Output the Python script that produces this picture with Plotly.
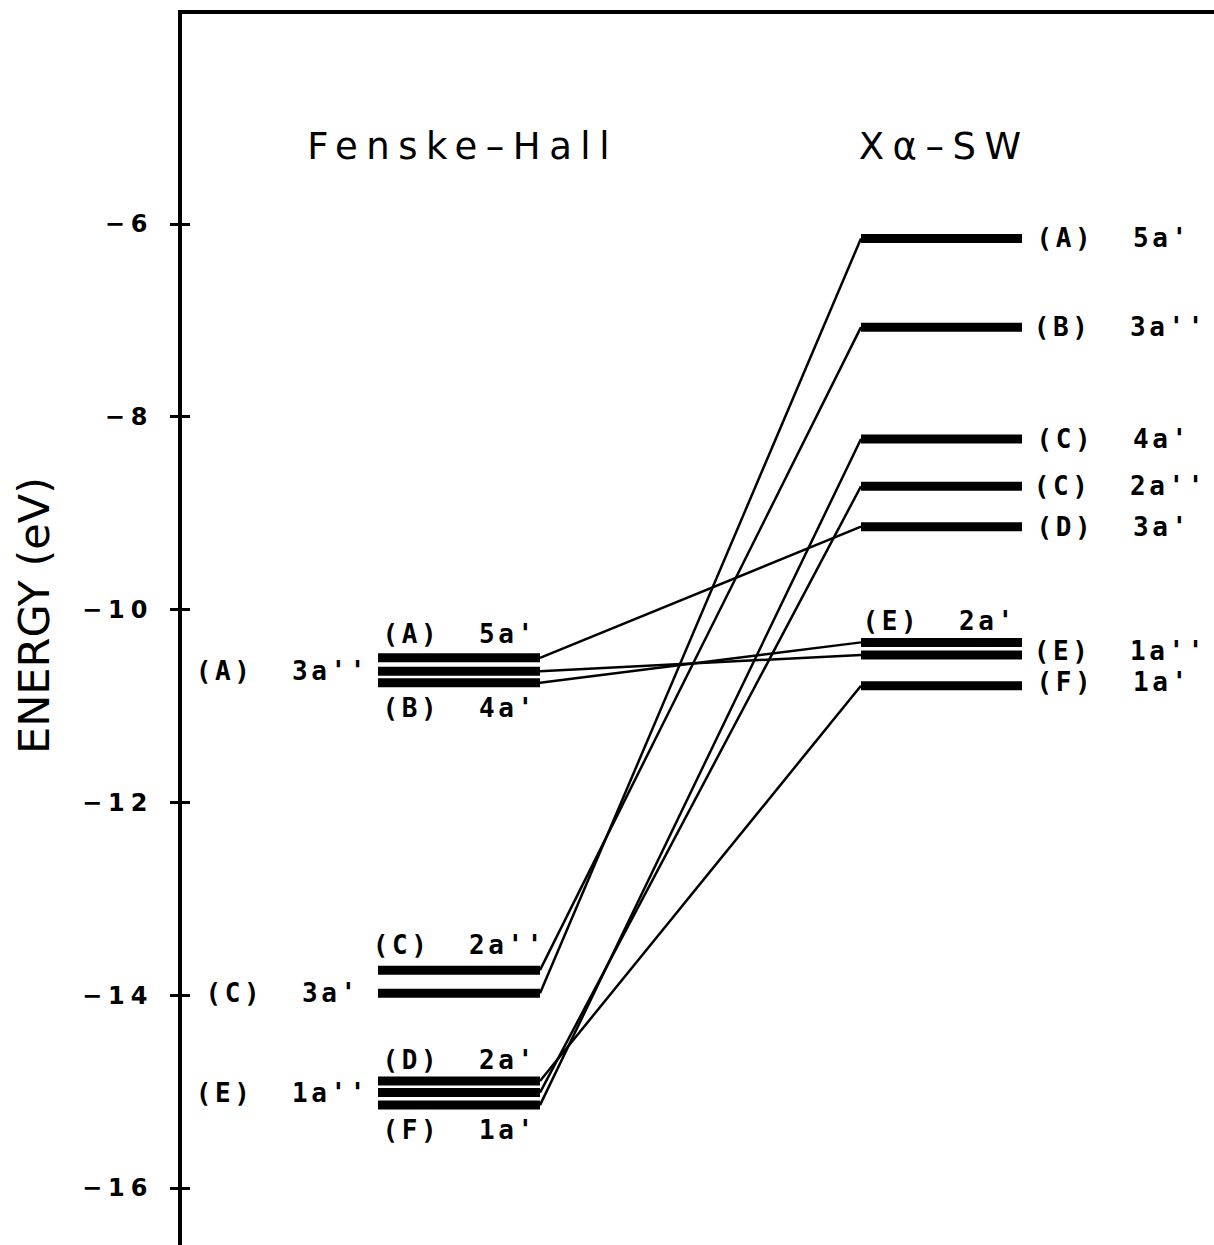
import json
import plotly.graph_objects as go

# ---------------- data ----------------
FH_LABELS = ["(A)  5a'", "(A)  3a''", "(B)  4a'", "(C)  2a''", "(C)  3a'",
             "(D)  2a'", "(E)  1a''", "(F)  1a'"]
FH_ENERGY = [-10.50, -10.64, -10.76, -13.74, -13.98, -14.89, -15.01, -15.14]

XA_LABELS = ["(A)  5a'", "(B)  3a''", "(C)  4a'", "(C)  2a''", "(D)  3a'",
             "(E)  2a'", "(E)  1a''", "(F)  1a'"]
XA_ENERGY = [-6.15, -7.07, -8.23, -8.72, -9.14, -10.34, -10.47, -10.79]

# index of the X-alpha-SW level each Fenske-Hall level is correlated with
CORRELATION = [4, 6, 5, 1, 0, 7, 3, 2]

TICK_VALUES = [-6, -8, -10, -12, -14, -16]
COLUMN_TITLES = ["Fenske–Hall", "Xα–SW"]
AXIS_TITLE = "ENERGY (eV)"

# ---------------- layout / style ----------------
W, H = 1214, 1245
ML, MT = 182, 14
PX_PER_EV = 96.4
Y_REF_PX = 224          # pixel row of the -6 tick
Y_TOP = -6 + (Y_REF_PX - MT) / PX_PER_EV
Y_BOT = -6 - (H - Y_REF_PX) / PX_PER_EV
X_MAX = (W - ML) / 100.0

X_FH = (1.96, 3.58)
X_XA = (6.79, 8.40)

FH_POS = ["above", "left", "below", "above", "left", "above", "left", "below"]
XA_POS = ["right", "right", "right", "right", "right", "above", "right", "right"]
FH_ABOVE_SHIFT = [24, 0, 0, 25, 0, 21, 0, 0]
XA_YSHIFT = [0, 0, 0, 0, 0, 21, 4, 4]

LABEL_FONT = dict(family="DejaVu Sans Mono", size=26, color="black", weight="bold")
TITLE_FONT = dict(family="DejaVu Sans", size=37, color="black")
TICK_FONT = dict(family="DejaVu Sans", size=24, color="black", weight="bold")
AXTITLE_FONT = dict(family="DejaVu Sans", size=43, color="black")

fig = go.Figure()

# correlation lines
cx, cy = [], []
for i, j in enumerate(CORRELATION):
    cx += [X_FH[1], X_XA[0], None]
    cy += [FH_ENERGY[i], XA_ENERGY[j], None]
fig.add_trace(go.Scatter(x=cx, y=cy, mode="lines",
                         line=dict(color="black", width=2.5),
                         hoverinfo="skip", showlegend=False))

# energy levels
for energies, (x0, x1) in ((FH_ENERGY, X_FH), (XA_ENERGY, X_XA)):
    lx, ly = [], []
    for e in energies:
        lx += [x0, x1, None]
        ly += [e, e, None]
    fig.add_trace(go.Scatter(x=lx, y=ly, mode="lines",
                             line=dict(color="black", width=9),
                             hoverinfo="skip", showlegend=False))

# dummy trace for the overlay axis carrying the inner tick halves
fig.add_trace(go.Scatter(x=[None], y=[None], yaxis="y2", showlegend=False,
                         hoverinfo="skip"))

annotations = []
for i, (lab, e) in enumerate(zip(FH_LABELS, FH_ENERGY)):
    pos = FH_POS[i]
    if pos == "left":
        x, ys = 1.00, 0
    elif pos == "above":
        x, ys = 2.77, FH_ABOVE_SHIFT[i]
    else:
        x, ys = 2.77, -25
    annotations.append(dict(x=x, y=e, xref="x", yref="y", text=lab,
                            showarrow=False, xanchor="center", yanchor="middle",
                            yshift=ys, font=LABEL_FONT))

for i, (lab, e) in enumerate(zip(XA_LABELS, XA_ENERGY)):
    pos = XA_POS[i]
    if pos == "above":
        x = 7.57
    else:
        x = 9.38 if lab.endswith("''") else 9.31
    annotations.append(dict(x=x, y=e, xref="x", yref="y", text=lab,
                            showarrow=False, xanchor="center", yanchor="middle",
                            yshift=XA_YSHIFT[i], font=LABEL_FONT))

# column titles
for title, xc in zip(COLUMN_TITLES, (2.80, 7.62)):
    annotations.append(dict(x=xc, y=-5.20, xref="x", yref="y", text=title,
                            showarrow=False, xanchor="center", yanchor="middle",
                            font=TITLE_FONT))

# axis title
annotations.append(dict(x=(34 - ML) / (W - ML), y=1 - (616 - MT) / (H - MT),
                        xref="paper", yref="paper", text=AXIS_TITLE,
                        textangle=-90, showarrow=False, xanchor="center",
                        yanchor="middle", font=AXTITLE_FONT))

fig.update_layout(
    width=W, height=H,
    margin=dict(l=ML, r=0, t=MT, b=0, pad=0),
    plot_bgcolor="white", paper_bgcolor="white",
    showlegend=False,
    annotations=annotations,
    xaxis=dict(range=[0, X_MAX], side="top", showline=True, linewidth=4,
               linecolor="black", showticklabels=False, ticks="",
               showgrid=False, zeroline=False, fixedrange=True),
    yaxis=dict(range=[Y_BOT, Y_TOP], showline=True, linewidth=3.5,
               linecolor="black", ticks="outside", ticklen=8, tickwidth=2.5,
               tickcolor="black", tickvals=TICK_VALUES, tickfont=TICK_FONT,
               ticklabelstandoff=12, showgrid=False, zeroline=False,
               fixedrange=True),
    yaxis2=dict(range=[Y_BOT, Y_TOP], overlaying="y", side="left",
                ticks="inside", ticklen=8, tickwidth=2.5, tickcolor="black",
                tickvals=TICK_VALUES, showticklabels=False, showline=False,
                showgrid=False, zeroline=False, fixedrange=True),
)

css = (
    "text[style*='font-size: 24px']{letter-spacing:6px}"
    "text[style*='font-size: 26px']{letter-spacing:3.6px}"
    "text[style*='font-size: 37px']{letter-spacing:8.5px}"
)
post = ("var s=document.createElement('style');s.textContent=%s;"
        "document.head.appendChild(s);" % json.dumps(css))

fig.write_html("out.html", post_script=post)
